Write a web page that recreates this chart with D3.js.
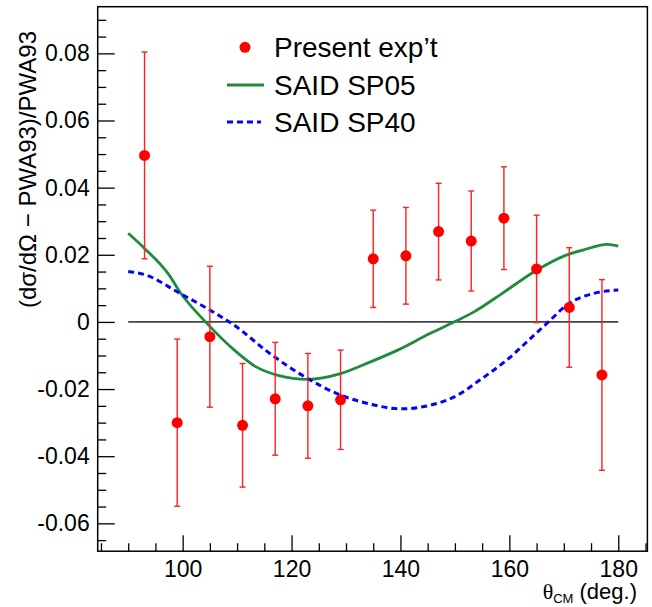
<!DOCTYPE html>
<html>
<head>
<meta charset="utf-8">
<script src="https://cdn.jsdelivr.net/npm/d3@7"></script>
<style>
  html, body { margin: 0; padding: 0; background: #fff; }
  svg { display: block; }
  text { font-family: "Liberation Sans", Arial, Helvetica, sans-serif; fill: #000; }
</style>
</head>
<body>
<div id="chart"></div>
<script>
// ---- Data ----
const expAngles = [93, 99, 105, 111, 117, 123, 129, 135, 141, 147, 153, 159, 165, 171, 177];
const expValues = [0.0496, -0.0300, -0.0044, -0.0308, -0.0229, -0.0250, -0.0232, 0.0188, 0.0197, 0.0269, 0.0241, 0.0309, 0.0158, 0.0043, -0.0158];
const expErrors = [0.0308, 0.0249, 0.0210, 0.0184, 0.0168, 0.0156, 0.0148, 0.0145, 0.0144, 0.0144, 0.0149, 0.0153, 0.0160, 0.0178, 0.0284];

const sp05Angles = [90, 93, 97.5, 99.5, 104.5, 109.5, 113.5, 117.5, 123, 129, 134.5, 139.5, 145.5, 150, 153.5, 158.5, 165, 170, 173.5, 178, 180];
const sp05Values = [0.0264, 0.0219, 0.0140, 0.0089, -0.0005, -0.0084, -0.0134, -0.0159, -0.0171, -0.0154, -0.0119, -0.0084, -0.0034, 0.0001, 0.0030, 0.0083, 0.0154, 0.0196, 0.0214, 0.0231, 0.0226];

const sp40Angles = [90, 93, 99.5, 104.5, 109.5, 116, 123, 129, 134, 140, 145.5, 150.5, 154.5, 159.5, 164.5, 167.5, 170.5, 175.5, 180];
const sp40Values = [0.0150, 0.0141, 0.0085, 0.0040, -0.0010, -0.0094, -0.0169, -0.0218, -0.0243, -0.0259, -0.0248, -0.0218, -0.0174, -0.0114, -0.0040, 0.0005, 0.0050, 0.0085, 0.0095];

const xMajorTicks = [100, 120, 140, 160, 180];
const xTickLabels = ["100", "120", "140", "160", "180"];
const xMinorTicks = [85, 90, 95, 105, 110, 115, 125, 130, 135, 145, 150, 155, 165, 170, 175, 185];
const yMajorTicks = [-0.06, -0.04, -0.02, 0, 0.02, 0.04, 0.06, 0.08];
const yTickLabels = ["-0.06", "-0.04", "-0.02", "0", "0.02", "0.04", "0.06", "0.08"];
const yMinorTicks = [-0.065, -0.055, -0.05, -0.045, -0.035, -0.03, -0.025, -0.015, -0.01, -0.005,
                     0.005, 0.01, 0.015, 0.025, 0.03, 0.035, 0.045, 0.05, 0.055, 0.065, 0.07, 0.075, 0.085, 0.09];
const legendLabels = ["Present exp\u2019t", "SAID SP05", "SAID SP40"];
const xDomain = [84.4, 185.35];
const yDomain = [-0.0683, 0.0939];
const zeroLineRange = [90, 180];

// ---- Layout ----
const W = 652, H = 607;
const L = 97.7, R = 647.4, T = 6.7, B = 551.2;

const svg = d3.select("#chart").append("svg").attr("width", W).attr("height", H);
svg.append("rect").attr("width", W).attr("height", H).attr("fill", "#fff");

const x = d3.scaleLinear().domain(xDomain).range([L, R]);
const y = d3.scaleLinear().domain(yDomain).range([B, T]);

// minor ticks
const xMinor = svg.append("g").attr("transform", `translate(0,${B})`)
  .call(d3.axisBottom(x).tickValues(xMinorTicks).tickSize(-8).tickFormat(""));
const yMinor = svg.append("g").attr("transform", `translate(${L},0)`)
  .call(d3.axisLeft(y).tickValues(yMinorTicks).tickSize(-8.5).tickFormat(""));
// major ticks
const xMajor = svg.append("g").attr("transform", `translate(0,${B})`)
  .call(d3.axisBottom(x).tickValues(xMajorTicks).tickSize(-16).tickPadding(9)
    .tickFormat((d, i) => xTickLabels[i]));
const yMajor = svg.append("g").attr("transform", `translate(${L},0)`)
  .call(d3.axisLeft(y).tickValues(yMajorTicks).tickSize(-17).tickPadding(8)
    .tickFormat((d, i) => yTickLabels[i]));

[xMinor, yMinor, xMajor, yMajor].forEach(g => {
  g.select(".domain").remove();
  g.selectAll(".tick line").attr("stroke", "#000").attr("stroke-width", 1.3);
  g.selectAll(".tick text").attr("font-size", 23).attr("font-family", "Liberation Sans, Arial, sans-serif").attr("fill", "#000");
});

// frame
svg.append("rect").attr("x", L).attr("y", T).attr("width", R - L).attr("height", B - T)
  .attr("fill", "none").attr("stroke", "#000").attr("stroke-width", 1.5);

// zero line
svg.append("line")
  .attr("x1", x(zeroLineRange[0])).attr("x2", x(zeroLineRange[1]))
  .attr("y1", y(0)).attr("y2", y(0))
  .attr("stroke", "#444").attr("stroke-width", 1.6);

// curves
const line = d3.line().x(d => x(d[0])).y(d => y(d[1])).curve(d3.curveMonotoneX);
svg.append("path").datum(sp05Angles.map((a, i) => [a, sp05Values[i]]))
  .attr("d", line).attr("fill", "none").attr("stroke", "#1e8c3c").attr("stroke-width", 2.8);
svg.append("path").datum(sp40Angles.map((a, i) => [a, sp40Values[i]]))
  .attr("d", line).attr("fill", "none").attr("stroke", "#0000ff").attr("stroke-width", 3)
  .attr("stroke-dasharray", "6,4");

// experimental points
const pts = expAngles.map((a, i) => ({a, v: expValues[i], e: expErrors[i]}));
const eg = svg.append("g");
const capW = 3;
pts.forEach(p => {
  const cx = x(p.a);
  eg.append("line").attr("x1", cx).attr("x2", cx).attr("y1", y(p.v + p.e)).attr("y2", y(p.v - p.e))
    .attr("stroke", "#ff2020").attr("stroke-width", 1.4);
  [p.v + p.e, p.v - p.e].forEach(v => {
    eg.append("line").attr("x1", cx - capW).attr("x2", cx + capW).attr("y1", y(v)).attr("y2", y(v))
      .attr("stroke", "#ff2020").attr("stroke-width", 1.4);
  });
});
svg.append("g").selectAll("circle").data(pts).join("circle")
  .attr("cx", d => x(d.a)).attr("cy", d => y(d.v)).attr("r", 5.5).attr("fill", "#ff0000");

// legend
const lg = svg.append("g");
lg.append("circle").attr("cx", 245).attr("cy", 47.3).attr("r", 5.5).attr("fill", "#ff0000");
lg.append("line").attr("x1", 227).attr("x2", 264).attr("y1", 85).attr("y2", 85)
  .attr("stroke", "#1e8c3c").attr("stroke-width", 2.8);
lg.append("line").attr("x1", 227).attr("x2", 261).attr("y1", 122).attr("y2", 122)
  .attr("stroke", "#0000ff").attr("stroke-width", 3).attr("stroke-dasharray", "6,4");
const legY = [57.3, 95, 131.7];
legendLabels.forEach((t, i) => {
  lg.append("text").attr("x", 274).attr("y", legY[i]).attr("font-size", 28).text(t);
});

// x axis title
const xt = svg.append("text").attr("x", 637).attr("y", 599).attr("text-anchor", "end").attr("font-size", 22);
xt.append("tspan").attr("font-family", "Liberation Serif, serif").text("\u03b8");
xt.append("tspan").attr("font-size", 13).attr("dy", 4).text("CM");
xt.append("tspan").attr("dy", -4).text(" (deg.)");

// y axis title
svg.append("text").attr("transform", "translate(36,31) rotate(-90)")
  .attr("text-anchor", "end").attr("font-size", 24)
  .text("(d\u03c3/d\u03a9 \u2212 PWA93)/PWA93");
</script>
</body>
</html>
